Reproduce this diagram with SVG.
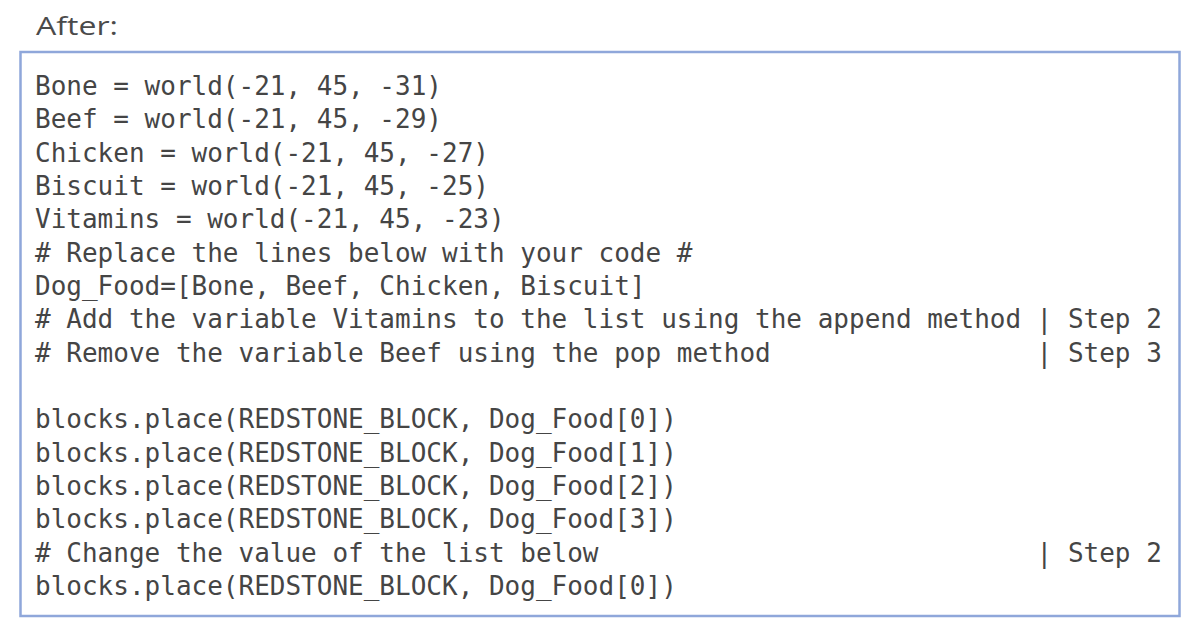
<svg xmlns="http://www.w3.org/2000/svg" width="1200" height="630" viewBox="0 0 1200 630">
<style>
.code{font-family:"DejaVu Sans Mono","Liberation Mono",monospace;font-size:26px;fill:#454545;}
.title{font-family:"Open Sans","Liberation Sans",sans-serif;font-size:26px;fill:#4a4a4a;}
</style>
<rect width="1200" height="630" fill="#ffffff"/>
<g id="title"><text class="title" x="36" y="35" textLength="82" lengthAdjust="spacingAndGlyphs">After:</text></g>
<g id="codebox">
<rect x="20.5" y="52" width="1159" height="564" fill="#ffffff" stroke="#8fa7da" stroke-width="2.5"/>
<g class="code">
<text x="35" y="95">Bone = world(-21, 45, -31)</text>
<text x="35" y="128.3">Beef = world(-21, 45, -29)</text>
<text x="35" y="161.7">Chicken = world(-21, 45, -27)</text>
<text x="35" y="195">Biscuit = world(-21, 45, -25)</text>
<text x="35" y="228.3">Vitamins = world(-21, 45, -23)</text>
<text x="35" y="261.7"># Replace the lines below with your code #</text>
<text x="35" y="295">Dog_Food=[Bone, Beef, Chicken, Biscuit]</text>
<text x="35" y="328.3"># Add the variable Vitamins to the list using the append method</text>
<text x="1036.6" y="328.3">| Step 2</text>
<text x="35" y="361.7"># Remove the variable Beef using the pop method</text>
<text x="1036.6" y="361.7">| Step 3</text>
<text x="35" y="428.3">blocks.place(REDSTONE_BLOCK, Dog_Food[0])</text>
<text x="35" y="461.7">blocks.place(REDSTONE_BLOCK, Dog_Food[1])</text>
<text x="35" y="495">blocks.place(REDSTONE_BLOCK, Dog_Food[2])</text>
<text x="35" y="528.3">blocks.place(REDSTONE_BLOCK, Dog_Food[3])</text>
<text x="35" y="561.7"># Change the value of the list below</text>
<text x="1036.6" y="561.7">| Step 2</text>
<text x="35" y="595">blocks.place(REDSTONE_BLOCK, Dog_Food[0])</text>
</g>
</g>
</svg>
